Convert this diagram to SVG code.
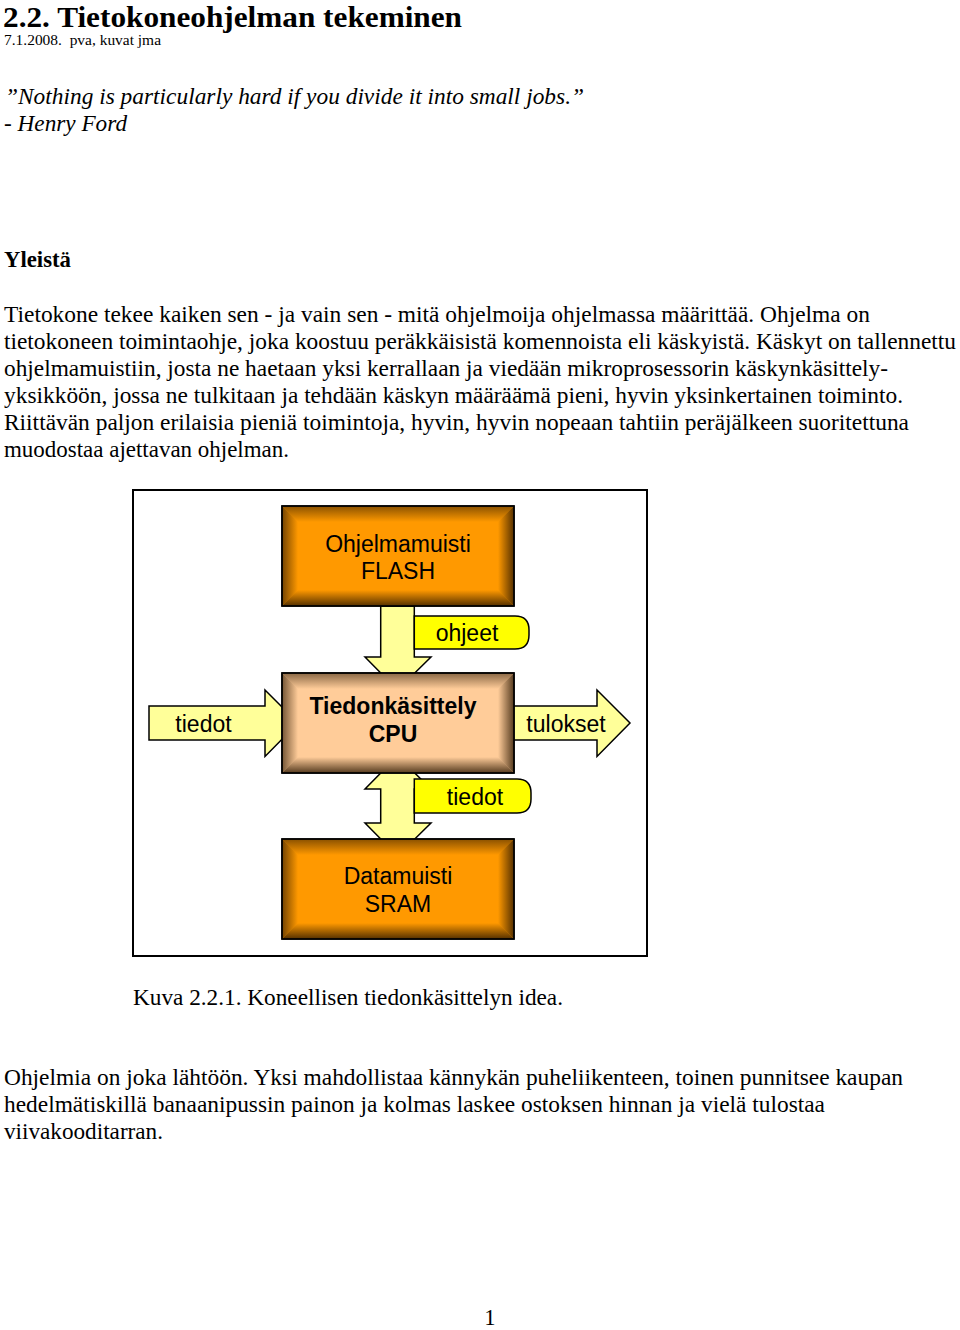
<svg xmlns="http://www.w3.org/2000/svg" xmlns:xlink="http://www.w3.org/1999/xlink" width="960" height="1330" viewBox="0 0 960 1330">
<style>
.serif{font-family:"Liberation Serif","Times New Roman",serif;fill:#000}
.body{font-size:22.6px}
.sans{font-family:"Liberation Sans",Arial,sans-serif;font-size:23px;fill:#000}
.arrow{fill:#FFFF99;stroke:#000;stroke-width:1.5;stroke-linejoin:miter}
.tag{fill:#FFFF00;stroke:#000;stroke-width:1.5}
.box{stroke:#000;stroke-width:1.5}
</style>
<defs>
<linearGradient id="gT" x1="0" y1="0" x2="0" y2="1"><stop offset="0" stop-color="#2a1600" stop-opacity="0.55"/><stop offset="1" stop-color="#2a1600" stop-opacity="0"/></linearGradient>
<linearGradient id="gB" x1="0" y1="1" x2="0" y2="0"><stop offset="0" stop-color="#2a1600" stop-opacity="0.8"/><stop offset="1" stop-color="#2a1600" stop-opacity="0"/></linearGradient>
<linearGradient id="gL" x1="0" y1="0" x2="1" y2="0"><stop offset="0" stop-color="#2a1600" stop-opacity="0.65"/><stop offset="1" stop-color="#2a1600" stop-opacity="0"/></linearGradient>
<linearGradient id="gR" x1="1" y1="0" x2="0" y2="0"><stop offset="0" stop-color="#2a1600" stop-opacity="0.8"/><stop offset="1" stop-color="#2a1600" stop-opacity="0"/></linearGradient>
<g id="bevel">
<polygon points="0,0 232,0 216,16 16,16" fill="url(#gT)"/>
<polygon points="0,100 232,100 216,84 16,84" fill="url(#gB)"/>
<polygon points="0,0 16,16 16,84 0,100" fill="url(#gL)"/>
<polygon points="232,0 216,16 216,84 232,100" fill="url(#gR)"/>
</g>
</defs>
<rect width="960" height="1330" fill="#fff"/>

<g id="page-text">
<text class="serif" x="3" y="27" font-size="30" font-weight="bold" textLength="459" lengthAdjust="spacingAndGlyphs">2.2. Tietokoneohjelman tekeminen</text>
<text class="serif" x="4" y="45" font-size="15" xml:space="preserve" textLength="157" lengthAdjust="spacingAndGlyphs">7.1.2008.  pva, kuvat jma</text>
<text class="serif body" x="5" y="104" font-style="italic" textLength="579" lengthAdjust="spacingAndGlyphs">”Nothing is particularly hard if you divide it into small jobs.”</text>
<text class="serif body" x="4" y="131" font-style="italic" textLength="123" lengthAdjust="spacingAndGlyphs">- Henry Ford</text>
<text class="serif body" x="4" y="267" font-weight="bold" textLength="67" lengthAdjust="spacingAndGlyphs">Yleistä</text>
<text class="serif body" x="4" y="322" textLength="866" lengthAdjust="spacingAndGlyphs">Tietokone tekee kaiken sen - ja vain sen - mitä ohjelmoija ohjelmassa määrittää. Ohjelma on</text>
<text class="serif body" x="4" y="349" textLength="952" lengthAdjust="spacingAndGlyphs">tietokoneen toimintaohje, joka koostuu peräkkäisistä komennoista eli käskyistä. Käskyt on tallennettu</text>
<text class="serif body" x="4" y="376" textLength="884" lengthAdjust="spacingAndGlyphs">ohjelmamuistiin, josta ne haetaan yksi kerrallaan ja viedään mikroprosessorin käskynkäsittely-</text>
<text class="serif body" x="4" y="403" textLength="899" lengthAdjust="spacingAndGlyphs">yksikköön, jossa ne tulkitaan ja tehdään käskyn määräämä pieni, hyvin yksinkertainen toiminto.</text>
<text class="serif body" x="4" y="430" textLength="905" lengthAdjust="spacingAndGlyphs">Riittävän paljon erilaisia pieniä toimintoja, hyvin, hyvin nopeaan tahtiin peräjälkeen suoritettuna</text>
<text class="serif body" x="4" y="457" textLength="285" lengthAdjust="spacingAndGlyphs">muodostaa ajettavan ohjelman.</text>
<text class="serif body" x="133" y="1005" textLength="430" lengthAdjust="spacingAndGlyphs">Kuva 2.2.1. Koneellisen tiedonkäsittelyn idea.</text>
<text class="serif body" x="4" y="1085" textLength="899" lengthAdjust="spacingAndGlyphs">Ohjelmia on joka lähtöön. Yksi mahdollistaa kännykän puheliikenteen, toinen punnitsee kaupan</text>
<text class="serif body" x="4" y="1112" textLength="821" lengthAdjust="spacingAndGlyphs">hedelmätiskillä banaanipussin painon ja kolmas laskee ostoksen hinnan ja vielä tulostaa</text>
<text class="serif body" x="4" y="1139" textLength="159" lengthAdjust="spacingAndGlyphs">viivakooditarran.</text>
<text class="serif body" x="490" y="1325" text-anchor="middle">1</text>
</g>

<rect id="frame" x="133" y="490" width="514" height="466" fill="#fff" stroke="#000" stroke-width="2"/>

<g id="connectors">
<polygon class="arrow" points="380.7,606 414.3,606 414.3,657 431,657 397.5,690 365,657 380.7,657"/>
<polygon class="arrow" points="149,706 265,706 265,690 298,723 265,756.5 265,740 149,740"/>
<polygon class="arrow" points="500,706 597,706 597,690 630,723 597,756.5 597,740 500,740"/>
<polygon class="arrow" points="397.5,756 431,789 414.3,789 414.3,823 431,823 397.5,856 365,823 380.7,823 380.7,789 365,789"/>
<path class="tag" d="M414.3,616 H515 Q529,616 529,630 V635 Q529,649 515,649 H414.3 Z"/>
<text class="sans" x="467" y="641" text-anchor="middle">ohjeet</text>
<path class="tag" d="M414.3,779 H517 Q531,779 531,793 V799 Q531,813 517,813 H414.3 Z"/>
<text class="sans" x="475" y="805" text-anchor="middle">tiedot</text>
<text class="sans" x="203.5" y="732" text-anchor="middle">tiedot</text>
<text class="sans" x="566" y="732" text-anchor="middle">tulokset</text>
</g>

<g id="flash">
<rect class="box" x="282" y="506" width="232" height="100" fill="#FF9900"/>
<use xlink:href="#bevel" href="#bevel" x="282" y="506"/>
<rect x="282" y="506" width="232" height="100" fill="none" stroke="#000" stroke-width="1.5"/>
<text class="sans" x="398" y="552" text-anchor="middle">Ohjelmamuisti</text>
<text class="sans" x="398" y="579" text-anchor="middle">FLASH</text>
</g>

<g id="cpu">
<rect class="box" x="282" y="673" width="232" height="100" fill="#FFCC99"/>
<use xlink:href="#bevel" href="#bevel" x="282" y="673"/>
<rect x="282" y="673" width="232" height="100" fill="none" stroke="#000" stroke-width="1.5"/>
<text class="sans" x="393" y="714" text-anchor="middle" font-weight="bold">Tiedonkäsittely</text>
<text class="sans" x="393" y="742" text-anchor="middle" font-weight="bold">CPU</text>
</g>

<g id="sram">
<rect class="box" x="282" y="839" width="232" height="100" fill="#FF9900"/>
<use xlink:href="#bevel" href="#bevel" x="282" y="839"/>
<rect x="282" y="839" width="232" height="100" fill="none" stroke="#000" stroke-width="1.5"/>
<text class="sans" x="398" y="884" text-anchor="middle">Datamuisti</text>
<text class="sans" x="398" y="912" text-anchor="middle">SRAM</text>
</g>
</svg>
